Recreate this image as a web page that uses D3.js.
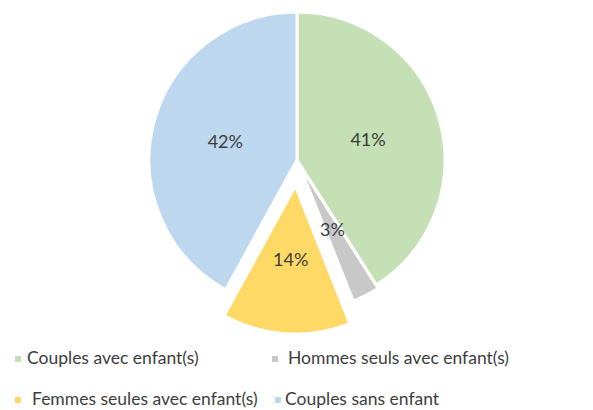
<!DOCTYPE html>
<html>
<head>
<meta charset="utf-8">
<script src="https://cdn.jsdelivr.net/npm/d3@7"></script>
<style>
  html, body { margin: 0; padding: 0; background: #fff; }
  svg { display: block; }
  text { font-family: Lato, "Noto Sans", sans-serif; }
</style>
</head>
<body>
<svg id="chart" width="593" height="410"></svg>
<script>
const categories = ["Couples avec enfant(s)", "Hommes seuls avec enfant(s)", "Femmes seules avec enfant(s)", "Couples sans enfant"];
const values = [41, 3, 14, 42];
const labels = ["41%", "3%", "14%", "42%"];
const colors = ["#c5e0b4", "#c8c8c8", "#ffd966", "#bdd7ee"];
const explode = [0, 4, 26, 0];

const svg = d3.select("#chart");
const cx = 297, cy = 160, R = 148;

const data = categories.map((c, i) => ({ name: c, value: values[i], label: labels[i], color: colors[i], off: explode[i] }));
const pie = d3.pie().sort(null).value(d => d.value);
const arcs = pie(data);
const arc = d3.arc().innerRadius(0).outerRadius(R);
const labelArc = d3.arc().innerRadius(R * 0.5).outerRadius(R * 0.5);

const g = svg.append("g").attr("transform", `translate(${cx},${cy})`);

const slices = g.selectAll("g.slice").data(arcs).join("g")
  .attr("class", "slice")
  .attr("transform", d => {
    const a = (d.startAngle + d.endAngle) / 2;
    return `translate(${Math.sin(a) * d.data.off},${-Math.cos(a) * d.data.off})`;
  });

slices.append("path")
  .attr("d", arc)
  .attr("fill", d => d.data.color)
  .attr("stroke", "#fff")
  .attr("stroke-width", 3)
  .attr("stroke-linejoin", "miter");

slices.append("text")
  .attr("transform", d => `translate(${labelArc.centroid(d)})`)
  .attr("text-anchor", "middle")
  .attr("dy", "0.35em")
  .attr("fill", "#3d3d3d")
  .attr("font-size", 18)
  .text(d => d.data.label);

// Legend
const legendPos = [
  { x: 15, y: 364, tx: 27 },
  { x: 272, y: 364, tx: 288 },
  { x: 15, y: 405, tx: 32 },
  { x: 275, y: 405, tx: 285 }
];
const lg = svg.append("g");
data.forEach((d, i) => {
  const p = legendPos[i];
  lg.append("rect").attr("x", p.x).attr("y", p.y - 8).attr("width", 6).attr("height", 6).attr("fill", d.color);
  lg.append("text").attr("x", p.tx).attr("y", p.y).attr("fill", "#3d3d3d").attr("font-size", 17.5).text(d.name);
});
</script>
</body>
</html>
